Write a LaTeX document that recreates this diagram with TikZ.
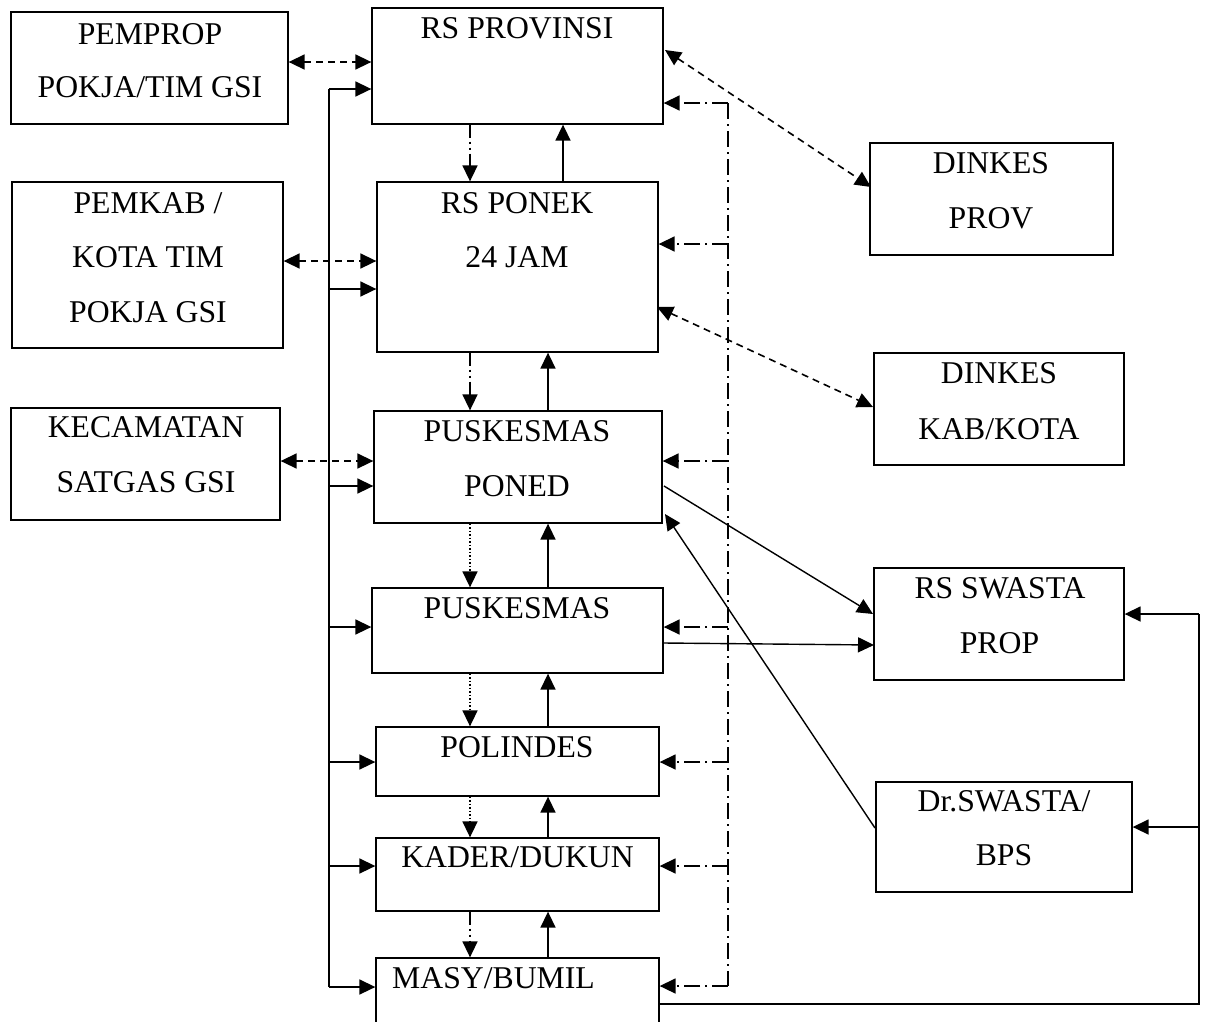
\documentclass[tikz,border=0pt]{standalone}
\usepackage{fontspec}
\setmainfont{Liberation Serif}
\usetikzlibrary{arrows.meta,fit}
\begin{document}
\begin{tikzpicture}[x=1pt,y=-1pt,
  box/.style={draw, line width=1.3pt, inner sep=0pt, rectangle},
  txt/.style={anchor=base, inner sep=0pt, font=\fontsize{31.7}{36}\selectfont},
  tip/.style={-{Triangle[length=16pt,width=15pt]}},
  duo/.style={{Triangle[length=16pt,width=15pt]}-{Triangle[length=16pt,width=15pt]}},
  flow/.style={line width=1.6pt},
  coordln/.style={line width=1.6pt, dash pattern=on 7pt off 5pt},
  feedback/.style={line width=1.6pt, dash pattern=on 16pt off 5pt on 2pt off 5pt},
  refer/.style={line width=1.6pt, dash pattern=on 13pt off 4pt on 2pt off 4pt on 2pt off 4pt},
  dotln/.style={line width=1.6pt, dash pattern=on 1.5pt off 2pt},
  diag/.style={line width=1.4pt},
]
\useasboundingbox (0,0) rectangle (1209,1021);
\clip (0,0) rectangle (1209,1021);

% ---------- boxes ----------
\node[box, fit={(11,12) (288,124)}]    (pemprop) {};
\node[box, fit={(12,182) (283,348)}]   (pemkab) {};
\node[box, fit={(11,408) (280,520)}]   (kec) {};
\node[box, fit={(372,8) (663,124)}]    (rsprov) {};
\node[box, fit={(377,182) (658,352)}]  (ponek) {};
\node[box, fit={(374,411) (662,523)}]  (poned) {};
\node[box, fit={(372,588) (663,673)}]  (pusk) {};
\node[box, fit={(376,727) (659,796)}]  (polin) {};
\node[box, fit={(376,838) (659,911)}]  (kader) {};
\node[box, fit={(376,958) (659,1050)}] (masy) {};
\node[box, fit={(870,143) (1113,255)}] (dprov) {};
\node[box, fit={(874,353) (1124,465)}] (dkab) {};
\node[box, fit={(874,568) (1124,680)}] (rsw) {};
\node[box, fit={(876,782) (1132,892)}] (drs) {};

% ---------- texts ----------
\node[txt] (t1a) at (150,44)  {PEMPROP};
\node[txt] (t1b) at (150,97)  {POKJA/TIM GSI};
\node[txt] (t2a) at (148,213) {PEMKAB /};
\node[txt] (t2b) at (148,267) {KOTA TIM};
\node[txt] (t2c) at (148,322) {POKJA GSI};
\node[txt] (t3a) at (146,437) {KECAMATAN};
\node[txt] (t3b) at (146,492) {SATGAS GSI};
\node[txt] (t4)  at (517,38)  {RS PROVINSI};
\node[txt] (t5a) at (517,213) {RS PONEK};
\node[txt] (t5b) at (517,267) {24 JAM};
\node[txt] (t6a) at (517,441) {PUSKESMAS};
\node[txt] (t6b) at (517,496) {PONED};
\node[txt] (t7)  at (517,618) {PUSKESMAS};
\node[txt] (t8)  at (517,757) {POLINDES};
\node[txt] (t9)  at (517.5,867) {KADER/DUKUN};
\node[txt] (t10) at (493.5,988) {MASY/BUMIL};
\node[txt] (t11a) at (991,173) {DINKES};
\node[txt] (t11b) at (991,228) {PROV};
\node[txt] (t12a) at (999,383) {DINKES};
\node[txt] (t12b) at (999,439) {KAB/KOTA};
\node[txt] (t13a) at (1000,598) {RS SWASTA};
\node[txt] (t13b) at (999.5,653) {PROP};
\node[txt] (t14a) at (1004,811) {Dr.SWASTA/};
\node[txt] (t14b) at (1004,865) {BPS};

% ---------- helper coordinates ----------
\coordinate (xd)  at (470,0);
\coordinate (xu)  at (548,0);
\coordinate (xu2) at (563,0);
% left bus
\coordinate (lb0) at (329,89);
\coordinate (lb1) at (329,289);
\coordinate (lb2) at (329,486);
\coordinate (lb3) at (329,627);
\coordinate (lb4) at (329,762);
\coordinate (lb5) at (329,866);
\coordinate (lb6) at (329,987);
% right dash-dot bus
\coordinate (rb0) at (728,103);
\coordinate (rb1) at (728,244);
\coordinate (rb2) at (728,461);
\coordinate (rb3) at (728,627);
\coordinate (rb4) at (728,762);
\coordinate (rb5) at (728,866);
\coordinate (rb6) at (728,986);
% far right bus
\coordinate (fb0) at (1199,1004);
\coordinate (fb1) at (1199,614);
\coordinate (fb2) at (1199,827);
% coordination rows
\coordinate (c1) at (0,62);
\coordinate (c2) at (0,261);
\coordinate (c3) at (0,461);
% ends of the slanted links
\coordinate (d1a) at (665,50);
\coordinate (d1b) at (871,187);
\coordinate (d2a) at (657,307);
\coordinate (d2b) at (873,407);
\coordinate (s1a) at (664,486);
\coordinate (s1b) at (873,614);
\coordinate (s2a) at (875,828);
\coordinate (s2b) at (665,514);
\coordinate (s3a) at (664,643);
\coordinate (s3b) at (874,645);

% ---------- coordination (dashed, both ways) ----------
\draw[coordln,duo] (pemprop.east |- c1) -- (rsprov.west |- c1);
\draw[coordln,duo] (pemkab.east |- c2) -- (ponek.west |- c2);
\draw[coordln,duo] (kec.east |- c3) -- (poned.west |- c3);
\draw[coordln,duo] (d1a) -- (d1b);
\draw[coordln,duo] (d2a) -- (d2b);

% ---------- left bus ----------
\draw[flow] (lb0) -- (lb6);
\draw[flow,tip] (lb0) -- (rsprov.west |- lb0);
\draw[flow,tip] (lb1) -- (ponek.west |- lb1);
\draw[flow,tip] (lb2) -- (poned.west |- lb2);
\draw[flow,tip] (lb3) -- (pusk.west |- lb3);
\draw[flow,tip] (lb4) -- (polin.west |- lb4);
\draw[flow,tip] (lb5) -- (kader.west |- lb5);
\draw[flow,tip] (lb6) -- (masy.west |- lb6);

% ---------- right dash-dot bus ----------
\draw[feedback] (rb0) -- (rb6);
\draw[feedback,tip] (rb0) -- (rsprov.east |- rb0);
\draw[feedback,tip] (rb1) -- (ponek.east |- rb1);
\draw[feedback,tip] (rb2) -- (poned.east |- rb2);
\draw[feedback,tip] (rb3) -- (pusk.east |- rb3);
\draw[feedback,tip] (rb4) -- (polin.east |- rb4);
\draw[feedback,tip] (rb5) -- (kader.east |- rb5);
\draw[feedback,tip] (rb6) -- (masy.east |- rb6);

% ---------- referral chain ----------
\draw[refer,tip] (xd |- rsprov.south) -- (xd |- ponek.north);
\draw[flow,tip]  (xu2 |- ponek.north) -- (xu2 |- rsprov.south);
\draw[refer,tip] (xd |- ponek.south) -- (xd |- poned.north);
\draw[flow,tip]  (xu |- poned.north) -- (xu |- ponek.south);
\draw[dotln,tip] (xd |- poned.south) -- (xd |- pusk.north);
\draw[flow,tip]  (xu |- pusk.north) -- (xu |- poned.south);
\draw[dotln,tip] (xd |- pusk.south) -- (xd |- polin.north);
\draw[flow,tip]  (xu |- polin.north) -- (xu |- pusk.south);
\draw[dotln,tip] (xd |- polin.south) -- (xd |- kader.north);
\draw[flow,tip]  (xu |- kader.north) -- (xu |- polin.south);
\draw[refer,tip] (xd |- kader.south) -- (xd |- masy.north);
\draw[flow,tip]  (xu |- masy.north) -- (xu |- kader.south);

% ---------- private sector links ----------
\draw[diag,tip] (s1a) -- (s1b);
\draw[diag,tip] (s2a) -- (s2b);
\draw[diag,tip] (s3a) -- (s3b);

% ---------- far right bus ----------
\draw[flow] (masy.east |- fb0) -- (fb0) -- (fb1);
\draw[flow,tip] (fb1) -- (rsw.east |- fb1);
\draw[flow,tip] (fb2) -- (drs.east |- fb2);
\end{tikzpicture}
\end{document}
